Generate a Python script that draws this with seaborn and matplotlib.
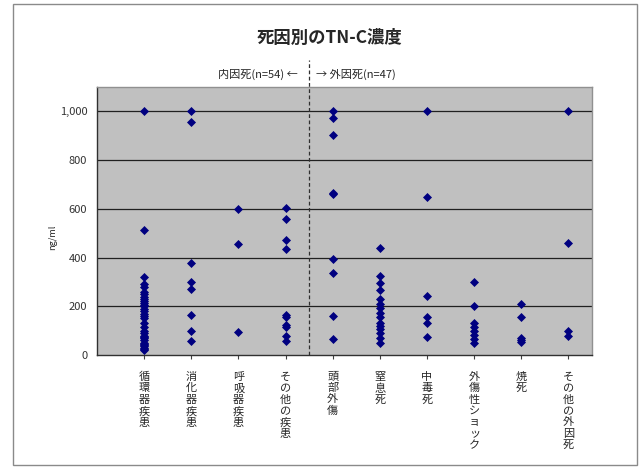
import pandas as pd
import matplotlib
matplotlib.use("Agg")
import matplotlib.pyplot as plt
import seaborn as sns
from matplotlib.patches import Rectangle

# categories (internal causes first, then external)
categories = ["循環器疾患", "消化器疾患", "呼吸器疾患", "その他の疾患",
              "頭部外傷", "窒息死", "中毒死", "外傷性ショック", "焼死", "その他の外因死"]

# TN-C concentration (ng/ml)
circulatory = [1000, 514, 320, 290, 279, 260, 250, 240, 230, 220, 215, 205, 200,
               190, 180, 170, 160, 150, 130, 115, 100, 90, 80, 75, 70, 60, 50,
               45, 40, 35, 30, 25, 20]
digestive = [1000, 956, 379, 298, 271, 163, 100, 56]
respiratory = [599, 456, 96]
other_disease = [603, 558, 471, 435, 166, 155, 125, 115, 78, 57]
head_injury = [1000, 973, 904, 665, 662, 396, 335, 159, 64]
asphyxia = [438, 324, 295, 267, 230, 209, 192, 174, 155, 133, 120, 105, 92, 68, 50]
poisoning = [1000, 650, 242, 156, 133, 75]
traumatic_shock = [298, 202, 133, 116, 100, 82, 64, 48]
burn = [210, 156, 70, 60, 55]
other_external = [1000, 458, 100, 78]

series = [circulatory, digestive, respiratory, other_disease, head_injury,
          asphyxia, poisoning, traumatic_shock, burn, other_external]

yticks = [0, 200, 400, 600, 800, 1000]
ytick_labels = ["0", "200", "400", "600", "800", "1,000"]

rows = []
for cat, vals in zip(categories, series):
    for v in vals:
        rows.append({"cause": cat, "value": v})
df = pd.DataFrame(rows)

sns.set_style("white")
plt.rcParams["font.family"] = ["Noto Sans CJK JP", "DejaVu Sans"]

W, H = 640, 468
fig = plt.figure(figsize=(6.4, 4.68), dpi=100)
ax = fig.add_axes([97 / W, 1 - 355 / H, (592 - 97) / W, (355 - 87) / H])

# outer frame of the chart
fig.add_artist(Rectangle((13 / W, 1 - 465 / H), (637 - 13) / W, (465 - 4) / H,
                         transform=fig.transFigure, fill=False,
                         edgecolor="#8a8a8a", linewidth=1.0))

ax.set_facecolor("#c0c0c0")
sns.stripplot(data=df, x="cause", y="value", order=categories, jitter=False,
              marker="D", color="#000080", size=4.6, linewidth=0, ax=ax, zorder=3)

ax.set_xlim(-1, 9.5)
ax.set_ylim(0, 1100)
ax.set_yticks(yticks)
ax.set_yticklabels(ytick_labels)
for y in yticks[1:]:
    ax.axhline(y, color="#202020", linewidth=0.9, zorder=1)

ax.set_xticks(range(len(categories)))
ax.set_xticklabels(["\n".join(c) for c in categories], fontsize=8,
                   linespacing=1.17, va="top")
ax.tick_params(axis="x", length=3, width=0.8, color="#404040", pad=9,
               direction="out", bottom=True)
ax.tick_params(axis="y", length=0, pad=7, labelsize=8, labelcolor="#333333")
ax.set_xlabel("")
ax.set_ylabel("ng/ml", fontsize=6.5)
ax.yaxis.set_label_coords(-0.08, 0.44)

for side in ["left", "bottom"]:
    ax.spines[side].set_color("#303030")
    ax.spines[side].set_linewidth(1.0)
for side in ["top", "right"]:
    ax.spines[side].set_color("#909090")
    ax.spines[side].set_linewidth(1.0)

# boundary between internal and external causes
ax.plot([3.5, 3.5], [0, 1.1], transform=ax.get_xaxis_transform(),
        color="#303030", linestyle=(0, (3, 2)), linewidth=0.9, clip_on=False,
        zorder=4)

fig.text(330 / W, 1 - 38 / H, "死因別のTN-C濃度", ha="center", va="center",
         fontsize=12.5, fontweight="bold")
fig.text(298 / W, 1 - 74 / H, "内因死(n=54) ←", ha="right", va="center",
         fontsize=8)
fig.text(316 / W, 1 - 74 / H, "→ 外因死(n=47)", ha="left", va="center",
         fontsize=8)

fig.savefig("out.png", dpi=100)
